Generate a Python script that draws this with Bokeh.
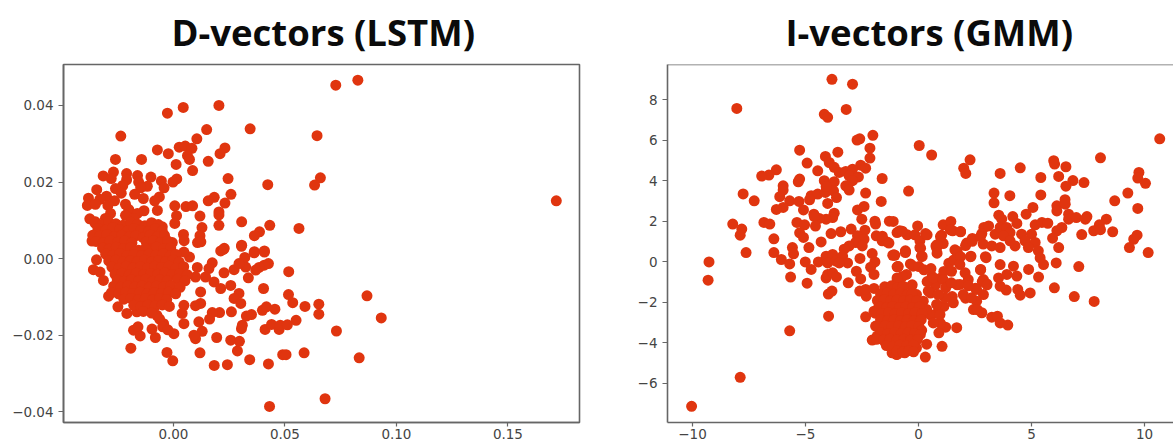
from bokeh.plotting import figure
from bokeh.layouts import row
from bokeh.models import FixedTicker, Span
from bokeh.embed import file_html
from bokeh.resources import INLINE

titles = ["D-vectors (LSTM)", "I-vectors (GMM)"]
d_xticks = [0.0, 0.05, 0.10, 0.15]
d_xlabels = ["0.00", "0.05", "0.10", "0.15"]
d_yticks = [-0.04, -0.02, 0.0, 0.02, 0.04]
d_ylabels = ["\u22120.04", "\u22120.02", "0.00", "0.02", "0.04"]
i_xticks = [-10, -5, 0, 5, 10]
i_xlabels = ["\u221210", "\u22125", "0", "5", "10"]
i_yticks = [-6, -4, -2, 0, 2, 4, 6, 8]
i_ylabels = ["\u22126", "\u22124", "\u22122", "0", "2", "4", "6", "8"]

dvec_upper = [
 (-0.0027,0.038),(0.0044,0.0395),(0.0204,0.040),(0.0344,0.0339),(-0.0236,0.032),(0.0149,0.0337),(0.0105,0.0313),
 (-0.0072,0.0284),(-0.0023,0.0274),(0.0026,0.0291),(0.0053,0.0294),(0.0083,0.0288),(0.0063,0.0269),(0.0072,0.0259),
 (0.0231,0.0289),(0.0209,0.0274),(0.0156,0.0254),(-0.026,0.0259),(-0.0143,0.0259),(0.0012,0.0246),(0.0086,0.023),
 (-0.0269,0.0226),(-0.0315,0.0216),(-0.0279,0.0209),(-0.021,0.0222),(-0.021,0.0206),(-0.0161,0.0217),(-0.0101,0.0213),
 (-0.0156,0.02),(-0.0054,0.0203),(0.0015,0.0208),(-0.0002,0.02),(0.0245,0.0209),(0.0423,0.0193),(-0.0042,0.0185),
 (-0.0117,0.0189),(-0.0147,0.0185),(-0.0227,0.0191),(-0.026,0.0183),(-0.0344,0.018),(-0.0174,0.0168),(-0.0234,0.0171),
 (-0.03,0.0163),(-0.0381,0.0158),(-0.033,0.0155),(-0.0264,0.0151),(-0.0135,0.0157),(-0.0063,0.0161),(-0.0084,0.0151),
 (0.0258,0.0168),(0.0183,0.016),(0.0156,0.0151),(0.0231,0.0145),(-0.0386,0.0139),(-0.035,0.0142),(-0.0294,0.0139),
 (-0.0215,0.0142),(0.0006,0.0138),(0.0056,0.0136),(0.0086,0.0138),(-0.0072,0.0126),(-0.02,0.0128),(-0.0132,0.0125),
 (-0.0162,0.0118),(-0.0282,0.0118),(0.0204,0.0122),(0.0204,0.0114),(0.0119,0.0111),(0.0014,0.0112),(-0.0375,0.0104),
 (-0.035,0.0096),(-0.0305,0.0105),(-0.0215,0.0113),(-0.0177,0.0105),(0.0306,0.0096),(0.0204,0.0087),(0.0128,0.0081),
 (0.0006,0.0092),(0.0432,0.0087),(0.0563,0.0079),(0.0386,0.007),(0.0363,0.006),(0.0045,0.0063),(0.0119,0.006),
 (0.0048,0.0047),(0.0108,0.0042),(0.0123,0.0044),(0.0228,0.0027),(0.0306,0.0035),(0.0363,0.0018),(0.0408,0.002),
 (-0.0365,0.0046),(-0.0342,0.0068),(-0.0095,0.0092),(-0.005,0.0083),(-0.0005,0.0042),
 (0.0728,0.0453),(0.0827,0.0466),(0.0644,0.0321),(0.0659,0.0211),(0.0633,0.0192),(0.1717,0.0151),
]
dvec_lower = [
 (-0.0345,-0.0003),(-0.0359,-0.0029),(-0.0329,-0.0035),(-0.0314,-0.0057),(-0.0291,-0.0098),(-0.0249,-0.0126),
 (-0.0209,-0.0143),(-0.0179,-0.0187),(-0.0159,-0.0178),(-0.0149,-0.0202),(-0.0191,-0.0234),(-0.0081,-0.0206),
 (-0.0096,-0.0184),(-0.0029,-0.0245),(-0.0003,-0.0267),(0.0119,-0.0246),(0.0183,-0.0279),(0.0242,-0.0277),
 (0.0342,-0.0264),(0.0426,-0.0275),(0.0287,-0.0241),(0.0257,-0.0213),(0.0296,-0.0216),(0.0194,-0.0206),
 (0.0099,-0.0209),(0.0129,-0.019),(0.0092,-0.02),(0.0114,-0.0165),(0.0305,-0.0183),(0.0309,-0.0174),
 (0.0431,-0.0386),(0.049,-0.0251),(0.0505,-0.0251),(0.0586,-0.0246),(0.0411,-0.0185),(0.044,-0.0172),
 (0.0474,-0.0185),(0.0479,-0.0174),(0.0511,-0.0173),(0.055,-0.0161),(0.0327,-0.015),(0.035,-0.0146),
 (0.026,-0.0139),(0.0207,-0.0141),(0.0174,-0.0141),(0.0162,-0.0158),(0.0399,-0.0135),(0.0417,-0.0126),
 (0.0455,-0.0132),(0.0404,-0.0078),(0.0516,-0.0094),(0.0535,-0.0115),(0.0517,-0.0034),(0.0336,-0.005),
 (0.0324,-0.0022),(0.032,0.0003),(0.0362,0.0015),(0.0408,0.0017),(0.0426,-0.0013),(0.0407,-0.0017),
 (0.0384,-0.0023),(0.0369,-0.003),(0.0272,-0.0029),(0.0294,-0.0013),(0.0224,0.0024),(0.0212,0.002),
 (0.0305,0.0032),(0.0072,0.0004),(0.0047,0.0017),(0.0107,-0.0023),(0.0099,-0.0048),(0.0174,-0.0011),
 (0.0159,-0.0026),(0.0227,-0.0037),(0.0144,-0.0048),(0.0182,-0.0061),(0.0257,-0.007),(0.0212,-0.0078),
 (0.0122,-0.0087),(0.0294,-0.0091),(0.0272,-0.0104),(0.0302,-0.0117),(0.0122,-0.0117),(0.0099,-0.0123),
 (0.0047,-0.0122),(0.0039,-0.0143),(0.0047,-0.017),(0.0002,-0.0196),(-0.0044,-0.017),(-0.0074,-0.0148),
 (-0.0164,-0.0139),(0.059,-0.0125),(0.0652,-0.0119),(0.0652,-0.0145),(0.0868,-0.0097),(0.0932,-0.0155),
 (0.0731,-0.0189),(0.0833,-0.0259),(0.068,-0.0366),
]
dvec_core = [
 (-0.0352,0.0093),(-0.0321,0.0088),(-0.029,0.0096),(-0.0258,0.0091),(-0.0226,0.0087),(-0.0192,0.0095),(-0.0161,0.009),(-0.0128,0.0086),(-0.0098,0.0094),(-0.0068,0.0089),
 (-0.0338,0.0079),(-0.0305,0.0074),(-0.0272,0.0081),(-0.0241,0.0076),(-0.0208,0.0072),(-0.0176,0.0079),(-0.0145,0.0074),(-0.0112,0.0071),(-0.0081,0.0078),(-0.005,0.0072),
 (-0.0362,0.0061),(-0.033,0.0059),(-0.0298,0.0063),(-0.0264,0.0058),(-0.0232,0.0061),(-0.0198,0.0057),(-0.0168,0.006),(-0.0136,0.0055),(-0.0104,0.0062),(-0.0072,0.0058),(-0.004,0.0061),
 (-0.0347,0.0045),(-0.0315,0.0042),(-0.0284,0.0047),(-0.025,0.0043),(-0.0218,0.0046),(-0.0186,0.0041),(-0.0122,0.0044),(-0.009,0.0047),(-0.0058,0.0042),(-0.0026,0.0046),
 (-0.0318,0.0028),(-0.0288,0.0025),(-0.0256,0.003),(-0.0224,0.0026),(-0.0192,0.0029),(-0.0108,0.0026),(-0.0076,0.003),(-0.0044,0.0025),(-0.0012,0.0028),
 (-0.0156,0.0022),(-0.0140,0.0018),(-0.0172,0.0018),(-0.0125,0.0027),
 (-0.0304,0.0012),(-0.0272,0.0009),(-0.024,0.0013),(-0.0208,0.0008),(-0.0176,0.0011),(-0.0142,0.0008),(-0.011,0.0012),(-0.0078,0.0009),(-0.0046,0.0013),(-0.0014,0.0008),(0.0012,0.0011),
 (-0.029,-0.0006),(-0.0258,-0.0004),(-0.0226,-0.0009),(-0.0194,-0.0005),(-0.0162,-0.0008),(-0.013,-0.0004),(-0.0098,-0.0009),(-0.0066,-0.0005),(-0.0034,-0.0008),(-0.0002,-0.0004),(0.0026,-0.0009),
 (-0.0276,-0.0022),(-0.0244,-0.0025),(-0.0212,-0.002),(-0.018,-0.0024),(-0.0148,-0.0021),(-0.0116,-0.0025),(-0.0084,-0.002),(-0.0052,-0.0023),(-0.002,-0.002),(0.0012,-0.0025),(0.0046,-0.0021),
 (-0.0262,-0.0041),(-0.023,-0.0038),(-0.0198,-0.0042),(-0.0166,-0.0038),(-0.0134,-0.0042),(-0.0102,-0.0039),(-0.007,-0.0041),(-0.0038,-0.0037),(-0.0006,-0.0042),(0.0028,-0.0039),(0.0062,-0.0042),
 (-0.0252,-0.0056),(-0.022,-0.0059),(-0.0188,-0.0055),(-0.0156,-0.0058),(-0.0124,-0.0054),(-0.0092,-0.0059),(-0.006,-0.0055),(-0.0028,-0.0058),(0.0018,-0.0054),(0.0052,-0.0058),
 (-0.0268,-0.0072),(-0.0236,-0.0075),(-0.0204,-0.0071),(-0.0172,-0.0074),(-0.014,-0.0071),(-0.0108,-0.0075),(-0.0076,-0.0072),(-0.0044,-0.0074),(-0.0012,-0.0071),(0.003,-0.0075),
 (-0.0278,-0.0089),(-0.0246,-0.0092),(-0.0214,-0.0088),(-0.0182,-0.0091),(-0.015,-0.0088),(-0.0118,-0.0092),(-0.0086,-0.0089),(-0.0054,-0.0091),(-0.0022,-0.0088),(0.001,-0.0092),
 (-0.0222,-0.0106),(-0.019,-0.0104),(-0.0158,-0.0108),(-0.0126,-0.0105),(-0.0094,-0.0108),(-0.0062,-0.0104),(-0.003,-0.0107),
 (-0.0178,-0.0122),(-0.0146,-0.0125),(-0.0114,-0.0121),(-0.0082,-0.0124),(-0.005,-0.0121),(-0.0018,-0.0125),
 (-0.0135,-0.0138),(-0.0098,-0.0142),(-0.0062,-0.0158),(-0.0048,-0.0178),(-0.0025,-0.0186),
]

ivec_upper = [
 (-8.04,7.56),(-3.83,9.0),(-2.92,8.76),(-3.2,7.51),(-4.17,7.27),(-4.02,7.12),(-2.02,6.23),(-2.6,6.06),(-2.72,6.0),
 (-2.15,5.6),(-2.15,5.11),(-5.26,5.5),(-3.57,5.4),(-4.12,5.19),(-4.93,4.86),(-3.95,4.89),(-3.73,4.65),(-4.46,4.48),
 (-6.29,4.53),(-6.62,4.27),(-6.94,4.22),(-2.56,4.76),(-2.34,4.61),(-3.51,4.4),(-3.22,4.45),(-2.92,4.56),(-2.85,4.18),
 (-3.07,4.23),(-2.66,4.18),(-1.61,4.1),(-5.26,4.07),(-5.32,3.94),(-4.17,3.99),(-3.73,3.94),(-2.92,3.99),(-3.22,3.74),
 (-3.07,3.53),(-2.34,3.38),(-7.76,3.34),(-7.27,3.0),(-5.99,3.74),(-5.99,3.53),(-6.14,3.2),(-4.75,3.25),(-4.46,3.33),
 (-4.12,3.41),(-3.76,3.49),(-4.09,3.71),(-3.63,3.16),(-5.7,3.0),(-5.29,2.97),(-4.82,3.05),(-4.02,2.87),(-1.65,2.97),
 (-2.41,2.72),(-2.7,2.55),(-5.09,2.55),(-5.99,2.67),(-6.29,2.57),(-4.63,2.34),(-3.73,2.39),(-3.8,2.17),(-4.09,2.09),
 (-4.39,2.13),(-4.61,2.22),(-2.51,2.09),(-1.93,1.99),(-1.9,1.85),(-1.29,1.99),(-8.22,1.85),(-6.84,1.93),(-6.58,1.85),
 (-5.38,1.93),(-5.04,1.81),(-4.56,1.75),(-7.82,1.6),(-7.89,1.3),(-2.98,1.6),(-2.37,1.55),(-3.87,1.38),(-3.44,1.47),
 (-5.26,1.42),(-5.09,1.19),(-6.4,1.12),(-4.31,0.97),(-1.87,1.27),(-1.61,1.02),(-1.39,0.97),(-0.95,1.43),(-2.7,1.27),
 (-2.41,1.1),(-2.78,0.94),(-3.07,0.77),(-2.49,0.77),(-3.29,0.61),(-4.85,0.69),(-5.58,0.69),(-7.63,0.44),(-6.4,0.44),
]
ivec_midleft = [
 (-9.27,-0.02),(-9.31,-0.92),(-6.07,0.1),(-5.7,-0.12),(-5.53,0.38),(-5.01,-0.02),(-4.75,-0.39),(-5.66,-0.77),
 (-4.93,-1.07),(-4.43,-0.02),(-4.09,0.26),(-3.8,0.35),(-4.02,-0.07),(-3.65,0.02),(-3.36,0.26),(-3.14,-0.07),
 (-3.51,-0.07),(-4.09,-0.81),(-4.02,-0.64),(-3.8,-0.56),(-3.63,-0.76),(-3.11,-1.05),(-3.99,-1.61),(-3.83,-1.46),
 (-3.98,-2.7),(-5.7,-3.42),(-7.89,-5.72),(-10.04,-7.15),(-2.75,-0.48),(-2.56,-0.86),(-2.59,0.15),(-2.05,0.39),
 (-1.93,-0.02),(-2.12,-0.28),(-1.97,-0.64),(-2.6,-1.46),(-2.31,-1.71),(-2.34,-1.38),(-1.97,-1.33),(-2.34,-2.73),
 (-2.05,-3.88),(-1.9,-3.19),(-1.75,-2.2),(-1.97,-2.45),(-1.83,-3.68),(-1.17,-4.51),(-0.95,-4.59),(-1.46,-4.01),
 (-1.14,0.31),(-0.95,-0.26),(-0.95,-0.81),(-1.46,-1.3),
]
ivec_right = [
 (0.03,5.73),(0.58,5.26),(2.28,5.02),(2.0,4.61),(2.09,4.35),(3.61,4.35),(4.5,4.63),(-0.44,3.48),(5.98,4.98),(6.02,4.81),
 (6.52,4.68),(8.05,5.12),(10.67,6.06),(5.41,4.15),(6.2,4.2),(6.83,4.0),(7.32,3.9),(6.52,3.72),(9.75,4.4),(9.7,4.12),
 (10.04,3.86),(9.26,3.38),(8.68,3.0),(9.7,2.62),(3.34,3.38),(4.04,3.25),(5.41,3.29),(3.34,2.9),(6.48,3.05),(6.12,2.75),
 (6.49,2.83),(6.12,2.5),(5.06,2.67),(4.76,2.34),(6.64,2.34),(6.64,2.09),(6.98,2.17),(7.45,2.22),(7.38,2.09),(8.31,2.09),
 (8.0,1.81),(7.75,1.52),(8.05,1.57),(8.59,1.47),(7.22,1.33),(9.67,1.3),(9.52,1.1),(3.55,2.29),(3.68,2.09),(4.17,2.22),
 (4.35,1.88),(5.16,1.81),(5.46,1.93),(5.72,1.89),(6.34,1.68),(6.12,1.52),(5.93,1.15),(6.2,0.69),(9.33,0.69),(10.16,0.44),
 (-1.12,1.98),(-0.83,1.52),(-0.5,1.32),(-0.16,1.32),(-0.04,1.76),(0.31,1.38),(1.09,1.81),(1.43,1.98),(1.51,1.52),
 (1.86,1.47),(1.02,1.3),(0.77,0.77),(1.09,0.89),(0.06,1.02),(0.06,0.69),(-0.58,0.53),(1.61,0.58),(2.13,0.91),(2.38,1.14),
 (2.89,1.68),(2.8,1.38),(3.1,1.76),(3.39,1.35),(3.61,1.68),(3.9,1.68),(4.05,1.43),(3.76,1.27),(2.86,0.86),(3.24,0.77),
 (3.61,0.69),(4.05,1.02),(4.27,0.77),(4.56,1.35),(5.0,1.35),(4.71,1.02),(5.16,0.94),(4.86,0.69),(5.3,0.53),
 (7.09,-0.25),(6.01,-1.3),(6.89,-1.73),(7.77,-1.97),(6.09,-0.07),(5.53,-0.15),(5.38,0.18),(4.87,-0.39),(5.31,-0.77),
 (4.35,-0.72),(4.39,-1.38),(4.5,-1.66),(4.94,-1.55),(3.88,-1.41),(3.61,-1.22),(3.54,-0.81),(3.91,-0.64),(4.2,-0.23),
 (3.61,-0.15),(2.99,0.19),(2.32,0.26),(2.75,-0.39),(2.87,-0.89),(3.02,-1.1),(2.87,-1.63),(2.57,-1.96),(2.43,-2.37),
 (2.8,-2.53),(3.24,-2.75),(3.49,-2.7),(3.61,-3.03),(3.95,-3.14),(1.69,-3.27),(1.2,-3.24),(0.9,-3.52),(1.04,-4.19),
 (0.36,-4.08),(0.3,-4.72),(-0.09,-4.26),(-0.61,-4.51),(-0.98,-4.59),(1.69,0.51),(0.8,0.67),(0.13,0.26),(-0.58,0.48),
 (-0.9,-0.25),(-0.53,-0.64),(-1.05,0.31),(-0.24,-0.23),
]
ivec_center = [
 (-1.09,0.33),(-0.58,0.44),(-0.91,-0.25),(-0.72,-0.74),(-0.94,-0.9),(-0.36,-0.12),(0.02,-0.25),(0.24,-0.41),(-0.28,-1.15),
 (0.6,-0.74),(0.97,-0.82),(0.75,-1.15),(0.38,-0.99),(0.53,-1.56),(1.12,-0.49),(1.34,-0.08),(1.71,0.49),(1.56,0.08),
 (1.86,0.24),(2.08,0.79),(2.38,1.0),(2.3,0.24),(2.74,1.23),(2.74,-0.41),(2.96,0.24),(2.82,-0.99),(2.52,-1.32),(3.03,-1.15),
 (2.6,-2.38),(2.08,-1.81),(1.71,-1.15),(1.49,-1.73),(1.12,-2.22),(0.82,-2.55),(0.53,-2.63),(0.97,-3.05),(0.65,-0.81),
 (1.09,-0.89),(1.46,-0.48),(1.83,-0.15),(2.06,-0.56),(2.2,-0.89),(1.83,-1.13),(1.54,-2.04),(1.17,-1.79),(1.98,-1.63),
 (2.35,-1.79),(2.57,-1.38),(0.87,-1.63),(0.43,-1.46),(-0.31,-1.22),(-0.09,-1.63),(0.21,-1.96),(0.8,-2.12),(0.36,-2.37),
 (0.95,-2.62),(0.65,-3.03),(-1.6,1.25),(-1.31,0.91),(-0.72,1.5),(0.38,1.32),(0.09,0.66),(0.16,0.25),(0.97,1.23),(0.82,0.83),
 (0.82,0.41),(1.41,1.56),(1.86,1.48),(1.2,-1.3),(1.45,-1.05),(0.55,-0.35),(2.2,-1.2),
]
ivec_core = [
 (-1.5,-1.25),(-1.2,-1.2),(-0.92,-1.28),(-0.68,-1.22),
 (-1.68,-1.6),(-1.38,-1.55),(-1.1,-1.62),(-0.8,-1.57),(-0.5,-1.63),(-0.28,-1.58),
 (-1.82,-1.92),(-1.52,-1.88),(-1.24,-1.95),(-0.95,-1.9),(-0.66,-1.95),(-0.36,-1.9),(-0.08,-1.94),
 (-1.72,-2.24),(-1.42,-2.28),(-1.14,-2.22),(-0.84,-2.27),(-0.55,-2.23),(-0.26,-2.28),(0.04,-2.24),
 (-1.92,-2.55),(-1.62,-2.58),(-1.32,-2.53),(-1.03,-2.58),(-0.74,-2.54),(-0.44,-2.58),(-0.15,-2.53),(0.16,-2.57),
 (-1.68,-2.88),(-1.38,-2.92),(-1.08,-2.87),(-0.79,-2.92),(-0.5,-2.88),(-0.2,-2.92),(0.12,-2.87),
 (-1.78,-3.2),(-1.48,-3.17),(-1.18,-3.22),(-0.88,-3.18),(-0.58,-3.22),(-0.29,-3.17),(0.02,-3.21),(0.14,-3.4),
 (-1.66,-3.52),(-1.36,-3.57),(-1.06,-3.52),(-0.76,-3.56),(-0.46,-3.52),(-0.17,-3.56),(0.08,-3.6),
 (-1.86,-3.84),(-1.55,-3.88),(-1.25,-3.83),(-0.95,-3.88),(-0.65,-3.84),(-0.35,-3.88),(-0.05,-3.85),
 (-1.42,-4.15),(-1.12,-4.18),(-0.82,-4.13),(-0.52,-4.17),(-0.22,-4.14),
 (-0.95,-4.42),(-0.7,-4.47),(-0.42,-4.4),(-0.22,-4.46),
]

RED = "#E0350F"
AXIS = "#666666"
TEXT = "#444444"

def make(points, width, xr, yr, left, right, xticks, xlabels, yticks, ylabels, title, offset, border):
    xs = [q[0] for q in points]
    ys = [q[1] for q in points]
    p = figure(width=width, height=443, x_range=xr, y_range=yr, output_backend="svg",
               toolbar_location=None, min_border_left=left, min_border_right=right,
               min_border_top=64, min_border_bottom=21, background_fill_color="white",
               border_fill_color="white")
    p.title.text = title
    p.title.text_font = "Open Sans"
    p.title.text_font_size = "36.5px"
    p.title.text_font_style = "bold"
    p.title.text_color = "#0b0b0b"
    p.title.align = "left"
    p.title.vertical_align = "top"
    p.title.offset = offset
    p.title.standoff = 12
    p.grid.visible = False
    p.scatter(x=xs, y=ys, size=11, fill_color=RED, line_color=RED, line_width=0)
    for ax, ticks, labels in ((p.xaxis[0], xticks, xlabels), (p.yaxis[0], yticks, ylabels)):
        ax.ticker = FixedTicker(ticks=ticks)
        ax.major_label_overrides = dict(zip(ticks, labels))
        ax.minor_tick_line_color = None
        ax.major_tick_in = 0
        ax.major_tick_out = 5
        ax.major_tick_line_color = AXIS
        ax.major_tick_line_width = 1.2
        ax.axis_line_color = AXIS
        ax.axis_line_width = 1.6
        ax.major_label_text_font = "DejaVu Sans"
        ax.major_label_text_font_size = "13.5px"
        ax.major_label_text_color = TEXT
        ax.major_label_standoff = 5
    p.xaxis[0].major_tick_out = 4
    p.xaxis[0].major_label_standoff = 2
    p.outline_line_color = AXIS if border else None
    p.outline_line_width = 1.6
    if not border:
        p.add_layout(Span(location=yr[1], dimension="width", line_color=AXIS, line_width=1.6))
    return p

p1 = make(dvec_upper + dvec_lower + dvec_core, 620, (-0.0493, 0.1821), (-0.0428, 0.0507), 63, 41,
          d_xticks, d_xlabels, d_yticks, d_ylabels, titles[0], 108, True)
p2 = make(ivec_upper + ivec_midleft + ivec_right + ivec_center + ivec_core, 553, (-11.106, 11.28), (-7.95, 9.73), 47, 0,
          i_xticks, i_xlabels, i_yticks, i_ylabels, titles[1], 118, False)

page = row(p1, p2)
open("out.html", "w").write(file_html(page, INLINE))
